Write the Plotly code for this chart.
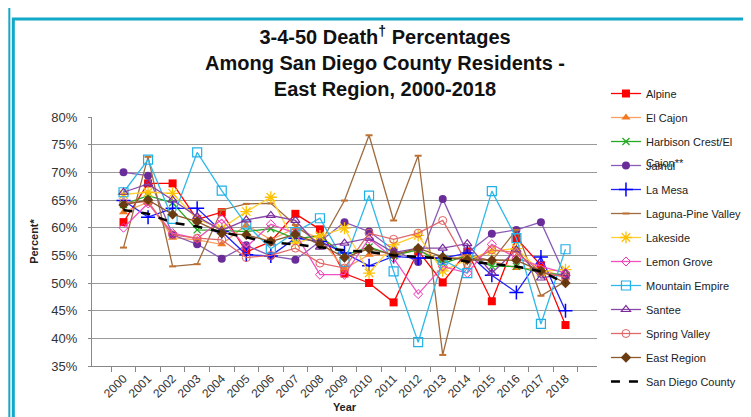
import plotly.graph_objects as go

years = [str(y) for y in range(2000, 2019)]

alpine = [61.0, 68.0, 68.0, 61.5, 62.8, 55.6, 57.5, 62.5, 59.7, 51.7, 50.0, 46.5, 55.8, 50.1, 55.7, 46.7, 58.1, 53.2, 42.4]
el_cajon = [62.8, 64.6, 58.2, 57.8, 57.0, 60.5, 57.8, 59.9, 58.0, 52.6, 55.1, 55.0, 56.0, 54.0, 55.0, 54.0, 52.7, 52.5, 51.0]
harbison = [64.2, 65.8, 64.5, 59.6, 59.5, 59.3, 59.8, 58.0, 58.5, 55.0, 56.5, 55.0, 56.0, 53.5, 55.0, 53.0, 53.0, 51.8, 51.5]
jamul = [70.0, 69.4, 58.7, 57.0, 54.4, 56.8, 54.9, 54.2, 57.5, 61.0, 59.3, 56.0, 53.8, 65.2, 55.4, 58.9, 59.6, 61.0, 51.2]
la_mesa = [64.9, 61.9, 63.5, 63.5, 59.3, 55.1, 54.9, 58.1, 57.5, 55.4, 53.1, 54.8, 54.5, 54.5, 55.4, 51.4, 48.3, 54.7, 45.0]
laguna = [56.4, 72.8, 53.0, 53.4, 63.2, 64.3, 64.4, 60.5, 57.0, 64.9, 76.7, 61.3, 73.0, 37.0, 55.0, 54.0, 59.6, 47.7, 50.3]
lakeside = [66.0, 66.4, 66.2, 61.5, 59.9, 62.9, 65.5, 57.2, 58.5, 59.9, 51.8, 56.9, 58.6, 52.2, 54.2, 55.8, 56.2, 52.1, 52.4]
lemon_grove = [60.0, 64.4, 59.0, 58.0, 61.5, 56.5, 60.6, 59.0, 51.5, 51.5, 58.0, 54.5, 48.0, 53.0, 51.8, 57.0, 54.5, 53.0, 51.8]
mountain_empire = [66.4, 72.3, 61.6, 73.6, 66.7, 60.6, 56.2, 59.2, 61.7, 53.8, 65.8, 52.1, 39.3, 54.2, 51.8, 66.6, 58.1, 42.6, 56.1]
santee = [66.4, 67.9, 65.0, 62.0, 59.5, 61.4, 62.2, 61.3, 56.5, 57.2, 58.1, 55.5, 56.3, 56.3, 57.1, 51.8, 56.0, 50.9, 51.7]
spring_valley = [64.5, 64.7, 58.7, 58.1, 57.8, 54.6, 55.0, 56.3, 53.6, 52.7, 59.0, 57.9, 59.0, 61.3, 53.5, 56.0, 55.5, 52.0, 51.0]
east_region = [64.1, 65.0, 62.4, 61.1, 59.0, 58.7, 57.5, 58.8, 57.0, 54.6, 56.2, 55.1, 56.3, 54.7, 54.2, 54.1, 54.1, 52.2, 50.0]
sd_county = [63.2, 62.5, 60.9, 60.2, 59.2, 58.2, 57.3, 57.0, 56.4, 55.9, 55.6, 55.0, 54.7, 54.5, 53.9, 53.4, 53.0, 52.1, 50.0]

y_ticks = [35, 40, 45, 50, 55, 60, 65, 70, 75, 80]
y_tick_labels = ["35%", "40%", "45%", "50%", "55%", "60%", "65%", "70%", "75%", "80%"]

series = [
    ("Alpine", alpine, "#ff0000", "#ff0000", "square", 8, 0, None),
    ("El Cajon", el_cajon, "#f8a060", "#f07a22", "triangle-up", 8, 0, None),
    ("Harbison Crest/El", harbison, "#22aa22", "#22aa22", "x-thin", 7, 1.3, "#22aa22"),
    ("Jamul", jamul, "#8a5cb8", "#6a2c98", "circle", 8, 0, None),
    ("La Mesa", la_mesa, "#2020ff", "#0000ff", "cross-thin", 10, 1.5, "#0000ff"),
    ("Laguna-Pine Valley", laguna, "#9e6b3e", "#c07030", "line-ew", 5, 2, "#c07030"),
    ("Lakeside", lakeside, "#ffd030", "#ffc000", "asterisk", 10, 1.3, "#ffc000"),
    ("Lemon Grove", lemon_grove, "#f050c0", "#f030b0", "diamond-open", 7, 1, None),
    ("Mountain Empire", mountain_empire, "#30b8ea", "#20b0e8", "square-open", 9, 1.2, None),
    ("Santee", santee, "#8848a8", "#7a2a9a", "triangle-up-open", 8, 1.2, None),
    ("Spring Valley", spring_valley, "#e06868", "#e06060", "circle-open", 8, 1, None),
    ("East Region", east_region, "#8c5a2c", "#6a3a10", "diamond", 8, 0, None),
]

fig = go.Figure()
for i, (name, vals, lc, mc, sym, sz, mlw, mlc) in enumerate(series):
    marker = dict(symbol=sym, size=sz, color=mc)
    if mlw:
        marker["line"] = dict(width=mlw, color=mlc if mlc else mc)
    fig.add_trace(go.Scatter(
        x=years, y=vals, name=name, mode="lines+markers",
        line=dict(color=lc, width=1.3), marker=marker,
        legendgroup=f"g{i}",
    ))

fig.add_trace(go.Scatter(
    x=years, y=sd_county, name="San Diego County", mode="lines",
    line=dict(color="black", width=2.5, dash="dash"), legendgroup="g99",
))

def px_x(px):
    return (px - 84) / 507

def px_y(py):
    return (358 - py) / 249

fig.update_layout(
    width=751, height=417,
    margin=dict(l=84, r=160, t=109, b=59),
    paper_bgcolor="white", plot_bgcolor="white",
    font=dict(family="Liberation Sans, Arial, sans-serif", color="#222"),
    title=dict(
        text="<b>3-4-50 Death<sup>†</sup> Percentages<br>Among San Diego County Residents -<br>East Region, 2000-2018</b>",
        x=377 / 751, xanchor="center", y=1 - 36 / 417, yanchor="top",
        font=dict(size=20, color="#111"),
    ),
    showlegend=True,
    legend=dict(
        x=px_x(600), xanchor="left", y=px_y(71), yanchor="top",
        font=dict(size=11, color="#222"), tracegroupgap=5,
        bgcolor="rgba(0,0,0,0)", itemwidth=30, maxheight=400,
    ),
    xaxis=dict(
        type="category", tickangle=-45, tickfont=dict(size=12, color="#333"),
        showgrid=False, showline=True, linecolor="#888", linewidth=1,
        ticks="outside", tickson="boundaries", ticklen=5, tickcolor="#888",
        title=dict(text="<b>Year</b>", font=dict(size=11, color="#222"), standoff=0),
    ),
    yaxis=dict(
        range=[35, 80], tickvals=y_ticks, ticktext=y_tick_labels,
        tickfont=dict(size=13, color="#333"), ticklabelstandoff=8,
        showgrid=True, gridcolor="#999", gridwidth=1,
        showline=True, linecolor="#888", linewidth=1,
        ticks="outside", ticklen=3, tickcolor="#888", zeroline=False,
        title=dict(text="<b>Percent*</b>", font=dict(size=11, color="#222"), standoff=10),
    ),
    shapes=[
        dict(type="rect", xref="paper", yref="paper",
             x0=px_x(5), x1=px_x(800), y0=px_y(440), y1=px_y(11),
             line=dict(color="#12a8c8", width=3), fillcolor="rgba(0,0,0,0)", layer="below"),
        dict(type="rect", xref="paper", yref="paper",
             x0=px_x(0), x1=px_x(2), y0=px_y(440), y1=px_y(0),
             line=dict(width=0), fillcolor="#12a8c8", layer="below"),
    ],
    annotations=[
        dict(text="Cajon**", xref="paper", yref="paper", x=px_x(638), y=px_y(155),
             xanchor="left", yanchor="middle", showarrow=False,
             font=dict(size=11, color="#222")),
    ],
)

fig.write_html("out.html")
